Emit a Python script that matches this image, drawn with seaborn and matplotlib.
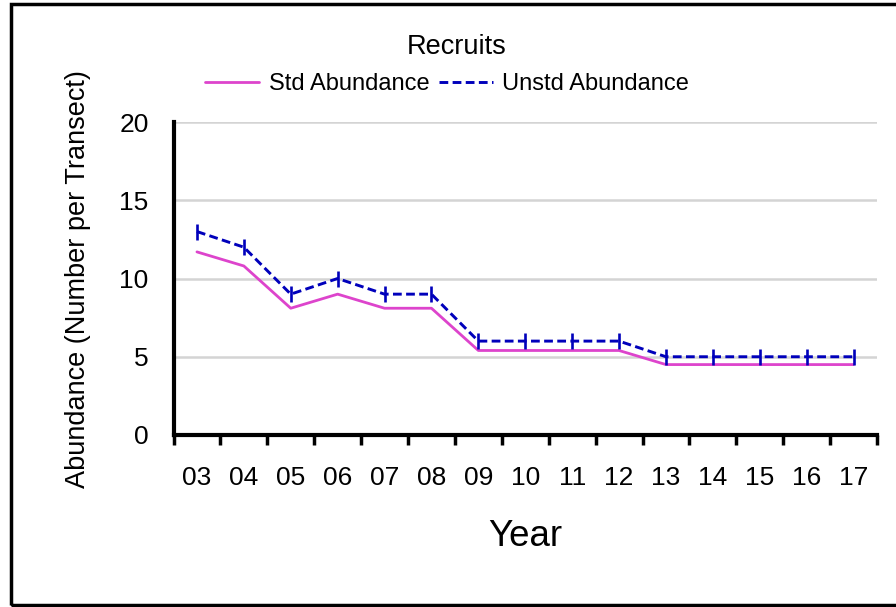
import matplotlib
matplotlib.use("Agg")
import matplotlib.pyplot as plt
import seaborn as sns
import pandas as pd
import numpy as np
from matplotlib.lines import Line2D
from matplotlib.patches import Rectangle

years = ["03", "04", "05", "06", "07", "08", "09", "10", "11", "12", "13", "14", "15", "16", "17"]
std_abundance = [11.7, 10.8, 8.1, 9.0, 8.1, 8.1, 5.4, 5.4, 5.4, 5.4, 4.5, 4.5, 4.5, 4.5, 4.5]
unstd_abundance = [13.0, 12.0, 9.0, 10.0, 9.0, 9.0, 6.0, 6.0, 6.0, 6.0, 5.0, 5.0, 5.0, 5.0, 5.0]
y_ticks = [0, 5, 10, 15, 20]

sns.set_style("white")
plt.rcParams['font.family'] = ['Liberation Sans', 'DejaVu Sans']
plt.rcParams['text.color'] = 'black'
plt.rcParams['xtick.color'] = 'black'
plt.rcParams['ytick.color'] = 'black'
plt.rcParams['xtick.labelcolor'] = 'black'
plt.rcParams['ytick.labelcolor'] = 'black'

PINK = "#DD44CC"
BLUE = "#0000BB"

df = pd.DataFrame({"pos": np.arange(len(years)), "std": std_abundance, "unstd": unstd_abundance})

fig = plt.figure(figsize=(8.96, 6.07), dpi=100)
ax = fig.add_axes([173.5 / 896, 1 - 435 / 607, (877 - 173.5) / 896, (435 - 122) / 607])

for yv in y_ticks[1:]:
    ax.axhline(yv, color="#d4d4d4", lw=1.8, zorder=0)

sns.lineplot(data=df, x="pos", y="std", ax=ax, color=PINK, lw=2.0, legend=False, zorder=3)
sns.lineplot(data=df, x="pos", y="unstd", ax=ax, color=BLUE, lw=2.1, marker="|",
             markersize=11, markeredgewidth=1.9, markeredgecolor=BLUE,
             linestyle=(0, (3.0, 1.5)), legend=False, zorder=4)

ax.set_xlim(-0.5, len(years) - 0.5)
ax.set_ylim(0, 20)
ax.set_yticks(y_ticks)
ax.set_yticklabels([str(v) for v in y_ticks], fontsize=19)
ax.tick_params(axis="y", length=0, pad=18)

ax.set_xticks(np.arange(-0.5, len(years)), minor=False)
ax.set_xticklabels([])
ax.set_xticks(np.arange(len(years)), minor=True)
ax.set_xticklabels(years, minor=True, fontsize=19)
ax.tick_params(axis="x", which="major", bottom=True, direction="out", length=7, width=2.5, color="black")
ax.tick_params(axis="x", which="minor", bottom=True, length=0, pad=22)

for s in ["top", "right"]:
    ax.spines[s].set_visible(False)
for s in ["left", "bottom"]:
    ax.spines[s].set_color("black")
    ax.spines[s].set_linewidth(3)

ax.set_xlabel("")
ax.set_ylabel("")
fig.text(78 / 896, 1 - 279 / 607, "Abundance (Number per Transect)", rotation=90,
         ha="center", va="center", fontsize=19.5)
fig.text(525 / 896, 1 - 537 / 607, "Year", ha="center", va="center", fontsize=26.5)
fig.text(457 / 896, 1 - 47 / 607, "Recruits", ha="center", va="center", fontsize=19.5)

handles = [Line2D([], [], color=PINK, lw=2.0),
           Line2D([], [], color=BLUE, lw=2.1, linestyle=(0, (3.0, 1.5)))]
fig.legend(handles, ["Std Abundance", "Unstd Abundance"], loc="center",
           bbox_to_anchor=(447 / 896, 1 - 84 / 607), ncol=2, frameon=False,
           fontsize=17, handlelength=2.3, handletextpad=0.4, columnspacing=0.4)

fig.patches.append(Rectangle((10.5 / 896, 1 - 604.5 / 607), 1.0, (604.5 - 3.5) / 607,
                             transform=fig.transFigure, fill=False, edgecolor="black",
                             lw=2.5, zorder=10))

fig.savefig("out.png", dpi=100, facecolor="white")
